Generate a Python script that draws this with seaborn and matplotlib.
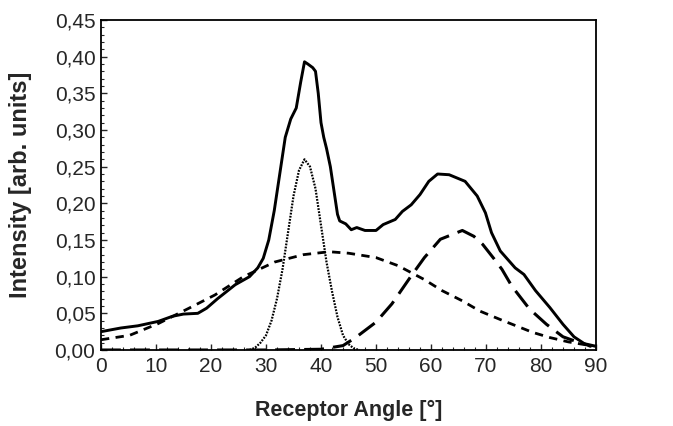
import matplotlib
matplotlib.use("Agg")
import matplotlib.pyplot as plt
import seaborn as sns
from matplotlib.ticker import FuncFormatter, MultipleLocator

# Total measured intensity (solid)
total_x = [0, 3.6, 6.7, 10.4, 13, 15, 17.6, 19.2, 21.2, 24.4, 27, 28.5, 29.5, 30.5, 31.5, 32.5, 33.5, 34.5,
           35.5, 36.3, 37, 37.6, 38.5, 39, 39.5, 40, 40.5, 41, 41.7, 42.3, 43, 43.4, 44.5, 45.5, 46.5, 48,
           50, 51.3, 53.5, 54.8, 56.4, 58, 59.6, 61.2, 63.3, 66.2, 68.4, 69.9, 71, 72.6, 75.3, 76.9, 79,
           81.6, 84, 86, 88, 89]
total_y = [0.025, 0.030, 0.033, 0.039, 0.046, 0.049, 0.050, 0.057, 0.070, 0.089, 0.100, 0.112, 0.125, 0.150,
           0.190, 0.240, 0.290, 0.315, 0.330, 0.365, 0.393, 0.390, 0.385, 0.380, 0.350, 0.310, 0.290,
           0.275, 0.250, 0.220, 0.185, 0.176, 0.172, 0.164, 0.167, 0.163, 0.163, 0.171, 0.178, 0.189,
           0.198, 0.212, 0.230, 0.240, 0.239, 0.230, 0.210, 0.187, 0.160, 0.135, 0.112, 0.103, 0.081,
           0.058, 0.035, 0.018, 0.008, 0.005]

# Narrow component (dotted)
narrow_x = [27, 28, 29, 30, 31, 32, 33, 34, 35, 36, 37, 38, 39, 40, 41, 42, 43, 44, 45, 46, 47]
narrow_y = [0.000, 0.003, 0.010, 0.020, 0.040, 0.070, 0.110, 0.160, 0.210, 0.245, 0.260, 0.250, 0.220,
            0.170, 0.120, 0.080, 0.045, 0.020, 0.008, 0.002, 0.000]

# Broad component (short dashes)
broad_x = [0, 5.2, 10.4, 16, 20.7, 25.9, 31.6, 36.8, 41.5, 45, 50, 54, 58.8, 62, 65.7, 68.9, 73.1, 78.5,
           81.6, 85, 89]
broad_y = [0.014, 0.020, 0.036, 0.057, 0.075, 0.100, 0.120, 0.130, 0.134, 0.132, 0.126, 0.115, 0.096,
           0.081, 0.067, 0.053, 0.040, 0.024, 0.017, 0.011, 0.006]

# Off-axis component (long dashes)
side_x = [0, 10, 20, 30, 40, 44, 46.3, 50, 52.9, 56.4, 58.8, 61.7, 65.7, 67.8, 69.4, 71.5, 72.9, 74.7,
          77.9, 81, 84, 87, 90]
side_y = [0.000, 0.000, 0.000, 0.000, 0.001, 0.006, 0.017, 0.038, 0.063, 0.101, 0.126, 0.151, 0.163,
          0.155, 0.144, 0.124, 0.110, 0.087, 0.056, 0.035, 0.018, 0.010, 0.005]

x_ticks = [0, 10, 20, 30, 40, 50, 60, 70, 80, 90]
y_ticks = [0.00, 0.05, 0.10, 0.15, 0.20, 0.25, 0.30, 0.35, 0.40, 0.45]

sns.set_style("ticks")
plt.rcParams['font.family'] = ['Liberation Sans', 'DejaVu Sans']

fig = plt.figure(figsize=(6.73, 4.26), dpi=100)
ax = fig.add_axes([101/673, 76/426, 495/673, 330/426])

sns.lineplot(x=side_x, y=side_y, ax=ax, color="black", lw=2.2, sort=False)
ax.lines[-1].set_dashes([6.5, 3])
sns.lineplot(x=broad_x, y=broad_y, ax=ax, color="black", lw=2.0, sort=False)
ax.lines[-1].set_dashes([3, 2.3])
sns.lineplot(x=narrow_x, y=narrow_y, ax=ax, color="black", lw=1.6, sort=False)
ax.lines[-1].set_dashes([0.8, 0.6])
sns.lineplot(x=total_x, y=total_y, ax=ax, color="black", lw=2.1, sort=False)

ax.set_xlim(0, 90)
ax.set_ylim(0, 0.45)
ax.set_xticks(x_ticks)
ax.set_yticks(y_ticks)
ax.yaxis.set_major_formatter(FuncFormatter(lambda v, p: f"{v:.2f}".replace(".", ",")))
ax.xaxis.set_minor_locator(MultipleLocator(2))
ax.yaxis.set_minor_locator(MultipleLocator(0.01))
ax.tick_params(axis="both", which="major", direction="in", length=4, width=1, labelsize=15)
ax.tick_params(axis="x", which="major", pad=5)
ax.tick_params(axis="y", which="major", pad=4)
ax.tick_params(axis="both", which="minor", direction="in", length=2, width=0.8)
for s in ax.spines.values():
    s.set_linewidth(1.3)
    s.set_color("black")

ax.set_xlabel("Receptor Angle [°]", fontsize=15.5, fontweight="bold")
ax.set_ylabel("Intensity [arb. units]", fontsize=17, fontweight="bold")
ax.xaxis.set_label_coords(0.5, -0.15)
ax.yaxis.set_label_coords(-0.14, 0.5)

fig.savefig("out.png", dpi=100)
